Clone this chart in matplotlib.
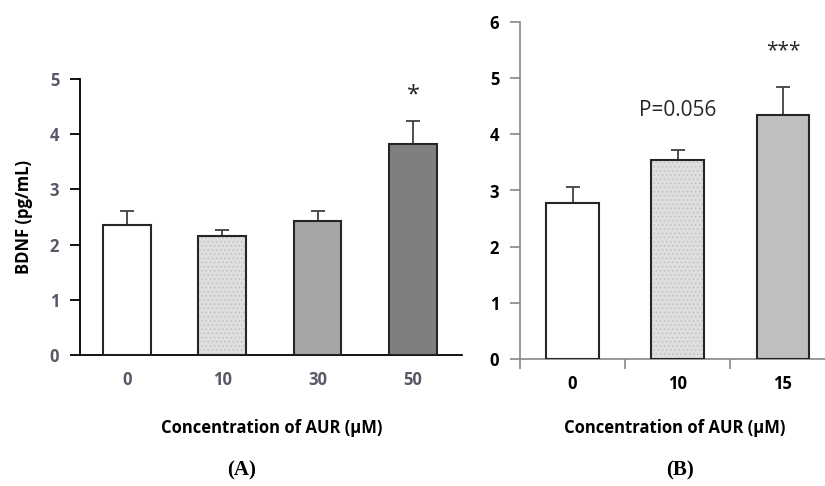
import matplotlib.pyplot as plt

# Panel A data
conc_a = ['0', '10', '30', '50']
bdnf_a = [2.36, 2.15, 2.43, 3.83]
err_a = [0.24, 0.12, 0.18, 0.41]
colors_a = ['white', '#dedede', '#a6a6a6', '#7f7f7f']
dotted_a = [False, True, False, False]

# Panel B data
conc_b = ['0', '10', '15']
bdnf_b = [2.78, 3.54, 4.35]
err_b = [0.28, 0.18, 0.50]
colors_b = ['white', '#dedede', '#bfbfbf']
dotted_b = [False, True, False]

plt.rcParams['font.family'] = ['Open Sans', 'DejaVu Sans']
plt.rcParams['hatch.linewidth'] = 0.5

fig = plt.figure(figsize=(8.25, 4.86), dpi=100)
ax_a = fig.add_axes([80 / 825, 1 - 354.7 / 486, (462 - 80) / 825, (354.7 - 79.3) / 486])
ax_b = fig.add_axes([520 / 825, 1 - 358.7 / 486, (825 - 520) / 825, (358.7 - 22.3) / 486])


def draw_bars(ax, cats, vals, errs, colors, dotted, ecol):
    x = range(len(cats))
    for i in x:
        # dotted fill drawn first, outline on top
        if dotted[i]:
            ax.bar(i, vals[i], 0.5, color=colors[i], hatch='....',
                   edgecolor='#bcbcbc', linewidth=0, zorder=2)
        else:
            ax.bar(i, vals[i], 0.5, color=colors[i], linewidth=0, zorder=2)
    ax.bar(x, vals, 0.5, fill=False, edgecolor='#262626', linewidth=1.5, zorder=3)
    ax.errorbar(x, vals, yerr=[[0] * len(vals), errs], fmt='none',
                ecolor=ecol, elinewidth=1.3, capsize=5, capthick=1.3, zorder=1)


# ---- Panel A ----
draw_bars(ax_a, conc_a, bdnf_a, err_a, colors_a, dotted_a, '#404040')
ax_a.set_xlim(-0.493, 3.514)
ax_a.set_ylim(0, 5)
ax_a.set_yticks(range(6))
ax_a.set_xticks(range(len(conc_a)))
ax_a.set_xticklabels(conc_a)
for s in ['top', 'right']:
    ax_a.spines[s].set_visible(False)
for s in ['left', 'bottom']:
    ax_a.spines[s].set_linewidth(1.3)
    ax_a.spines[s].set_color('black')
ax_a.tick_params(axis='y', length=7, width=1.3, direction='out', pad=8,
                 labelsize=12, labelcolor='#595966')
ax_a.tick_params(axis='x', length=0, pad=12, labelsize=12, labelcolor='#595966')
for lab in ax_a.get_xticklabels() + ax_a.get_yticklabels():
    lab.set_fontweight('bold')
ax_a.set_ylabel('BDNF (pg/mL)', fontsize=12, fontweight='bold', labelpad=12)
ax_a.text(3, 4.71, '*', ha='center', va='center', fontsize=17, color='#262626',
          clip_on=False)

# ---- Panel B ----
draw_bars(ax_b, conc_b, bdnf_b, err_b, colors_b, dotted_b, '#404040')
ax_b.set_xlim(-0.5, 2.4)
ax_b.set_ylim(0, 6)
ax_b.set_yticks(range(7))
ax_b.set_xticks([-0.5, 0.5, 1.5])
ax_b.set_xticklabels([])
ax_b.set_xticks(range(len(conc_b)), minor=True)
ax_b.set_xticklabels(conc_b, minor=True)
for s in ['top', 'right']:
    ax_b.spines[s].set_visible(False)
for s in ['left', 'bottom']:
    ax_b.spines[s].set_linewidth(1.2)
    ax_b.spines[s].set_color('#888888')
ax_b.tick_params(axis='y', length=7, width=1.2, color='#888888', pad=8,
                 labelsize=12, labelcolor='black')
ax_b.tick_params(axis='x', which='major', length=7, width=1.2, color='#888888')
ax_b.tick_params(axis='x', which='minor', length=0, pad=12, labelsize=12)
for lab in ax_b.get_xticklabels(minor=True) + ax_b.get_yticklabels():
    lab.set_fontweight('bold')
ax_b.text(1, 4.43, 'P=0.056', ha='center', va='center', fontsize=15,
          color='#262626')
ax_b.text(2, 5.5, '***', ha='center', va='center', fontsize=15, color='#262626',
          clip_on=False)

# axis titles and panel letters
fig.text(272 / 825, 1 - 428 / 486, 'Concentration of AUR (\u00b5M)', ha='center',
         va='center', fontsize=12, fontweight='bold')
fig.text(675 / 825, 1 - 428 / 486, 'Concentration of AUR (\u00b5M)', ha='center',
         va='center', fontsize=12, fontweight='bold')
fig.text(242 / 825, 1 - 470 / 486, '(A)', ha='center', va='center', fontsize=15,
         fontweight='bold', family=['Liberation Serif', 'DejaVu Serif'])
fig.text(680 / 825, 1 - 470 / 486, '(B)', ha='center', va='center', fontsize=15,
         fontweight='bold', family=['Liberation Serif', 'DejaVu Serif'])

fig.savefig('out.png', dpi=100)
